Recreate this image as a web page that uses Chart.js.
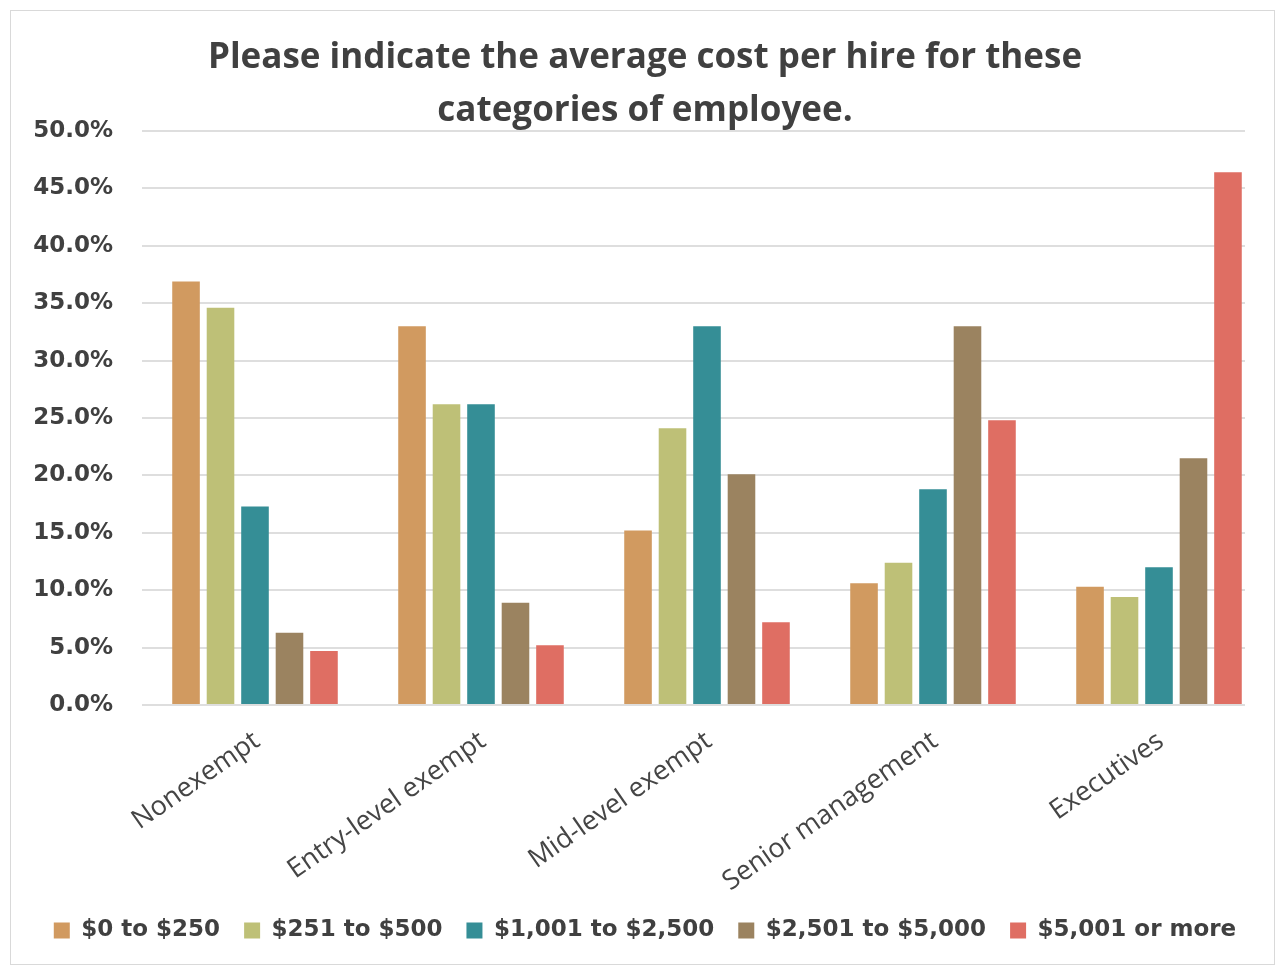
<!DOCTYPE html>
<html>
<head>
<meta charset="utf-8">
<script src="https://cdn.jsdelivr.net/npm/chart.js@4/dist/chart.umd.min.js"></script>
<style>
  html, body { margin: 0; padding: 0; background: #fff; }
  #frame {
    position: absolute; left: 10px; top: 10px;
    width: 1265px; height: 955px;
    border: 1px solid #d9d9d9; box-sizing: border-box;
  }
  #costChart { display: block; }
</style>
</head>
<body>
<div id="frame"><canvas id="costChart" width="1263" height="953"></canvas></div>
<script>
// employee categories along the x axis
const categories = ['Nonexempt', 'Entry-level exempt', 'Mid-level exempt', 'Senior management', 'Executives'];

// cost-per-hire bands (one series each), values in percent of respondents
const bandLabels = ['$0 to $250', '$251 to $500', '$1,001 to $2,500', '$2,501 to $5,000', '$5,001 or more'];
const upTo250 = [36.9, 33.0, 15.2, 10.6, 10.3];
const from251To500 = [34.6, 26.2, 24.1, 12.4, 9.4];
const from1001To2500 = [17.3, 26.2, 33.0, 18.8, 12.0];
const from2501To5000 = [6.3, 8.9, 20.1, 33.0, 21.5];
const over5000 = [4.7, 5.2, 7.2, 24.8, 46.4];

const bandColors = ['#d19a60', '#bec077', '#358e96', '#9b8360', '#df6e63'];

const yMin = 0;
const yMax = 50;
const yStep = 5;

const seriesValues = [upTo250, from251To500, from1001To2500, from2501To5000, over5000];

const datasets = seriesValues.map((vals, i) => ({
    label: bandLabels[i],
    data: vals,
    backgroundColor: bandColors[i],
    borderWidth: 0,
    barPercentage: 0.80,
    categoryPercentage: 0.763
}));

const textColor = '#404040';

// gridlines stop a little short of the right edge of the plot
const shortGrid = {
    id: 'shortGrid',
    beforeDraw(chart) {
        const { ctx, chartArea, width, height } = chart;
        ctx.save();
        ctx.beginPath();
        ctx.rect(0, 0, width, height);
        ctx.rect(chartArea.right - 27, chartArea.top - 3, 40, chartArea.bottom - chartArea.top + 6);
        ctx.clip('evenodd');
    },
    beforeDatasetsDraw(chart) {
        chart.ctx.restore();
    }
};

new Chart(document.getElementById('costChart'), {
    type: 'bar',
    data: { labels: categories, datasets: datasets },
    plugins: [shortGrid],
    options: {
        responsive: false,
        animation: false,
        layout: { padding: { left: 7, right: 2, top: 18, bottom: 12 } },
        plugins: {
            tooltip: { enabled: false },
            title: {
                display: true,
                text: ['Please indicate the average cost per hire for these', 'categories of employee.'],
                color: textColor,
                font: { family: 'Open Sans', size: 35, weight: 'bold', lineHeight: 1.5 },
                padding: { top: 3, bottom: -6 }
            },
            legend: {
                position: 'bottom',
                labels: {
                    boxWidth: 16,
                    boxHeight: 16,
                    padding: 24,
                    color: textColor,
                    font: { family: 'DejaVu Sans', size: 23, weight: 'bold' }
                }
            }
        },
        scales: {
            x: {
                grid: { display: false },
                border: { display: false },
                ticks: {
                    minRotation: 35,
                    maxRotation: 35,
                    padding: 12,
                    labelOffset: 2,
                    color: '#454545',
                    font: { family: 'Open Sans', size: 27 }
                },
                afterFit(scale) {
                    scale.height = 190;
                    scale.paddingLeft = 0;
                    scale.paddingRight = 0;
                }
            },
            y: {
                min: yMin,
                max: yMax,
                border: { display: false },
                grid: { color: '#dedede', lineWidth: 2, drawTicks: false },
                ticks: {
                    stepSize: yStep,
                    padding: 29,
                    color: textColor,
                    font: { family: 'DejaVu Sans', size: 23, weight: 'bold' },
                    callback: v => v.toFixed(1) + '%'
                },
                afterFit(scale) {
                    scale.width = 124;
                }
            }
        }
    }
});
</script>
</body>
</html>
